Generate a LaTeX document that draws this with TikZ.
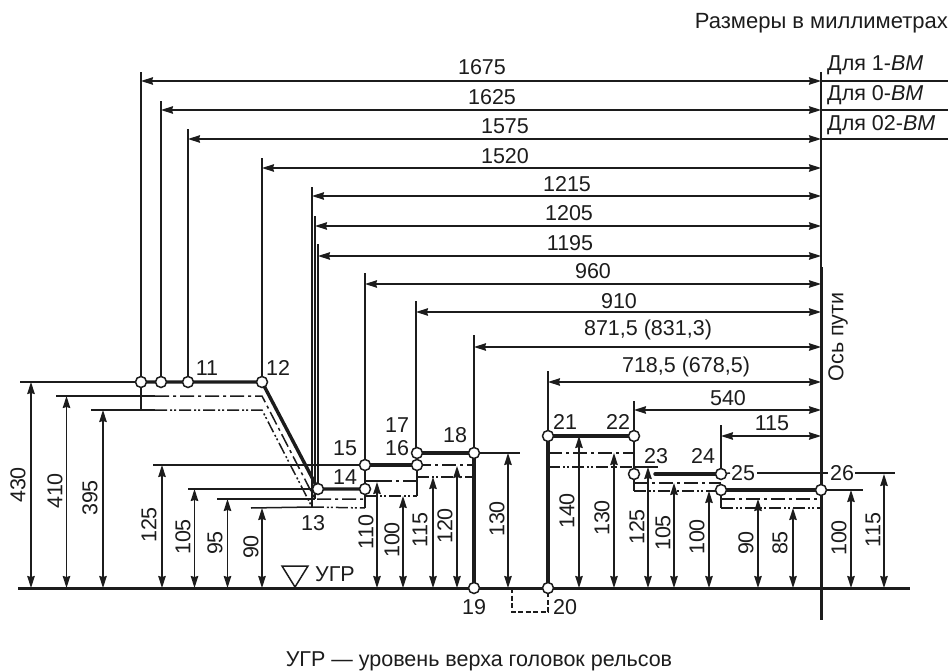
\documentclass[tikz,border=0pt]{standalone}
\usepackage{fontspec}
\setmainfont{Liberation Sans}
\usetikzlibrary{arrows.meta}
\definecolor{ink}{HTML}{1C1C1C}
\newcommand\dimH[8]{% name, x, foot y, top y, arrow y, label x, label y, text
  \coordinate (#1-foot) at (#2,#3);
  \coordinate (#1-top) at (#2,#4);
  \coordinate (#1-l) at (#2,#5);
  \coordinate (#1-r) at (821,#5);
  \draw[thinl] (#1-foot) -- (#1-top);
  \draw[dimarrow] (#1-l) -- (#1-r);
  \node[lab] (#1-t) at (#6,#7) {#8};
}
\newcommand\dimV[6]{% name, x, top y, label x, label y, text
  \coordinate (#1-a) at (#2,#3);
  \coordinate (#1-b) at (#2,588);
  \draw[dimarrow] (#1-a) -- (#1-b);
  \node[lab,rotate=90] (#1-t) at (#4,#5) {#6};
}
\tikzset{
  thinl/.style={line width=1.5pt,draw=ink},
  dimarrow/.style={line width=1.5pt,draw=ink,{Stealth[length=12pt,width=7.5pt,inset=1pt]}-{Stealth[length=12pt,width=7.5pt,inset=1pt]}},
  thickl/.style={line width=3.4pt,draw=ink,line cap=round},
  midl/.style={line width=2.4pt,draw=ink},
  dashdot/.style={line width=1.5pt,draw=ink,dash pattern=on 14pt off 4pt on 3pt off 4pt},
  dashdots/.style={line width=1.5pt,draw=ink,dash pattern=on 12pt off 3pt on 2pt off 2pt on 2pt off 3pt},
  hid/.style={line width=1.5pt,draw=ink,dash pattern=on 5pt off 2.5pt},
  lab/.style={inner sep=0pt,text=ink,font=\fontsize{21.5}{24}\selectfont},
  pt/.style={circle,draw=ink,fill=white,line width=1.5pt,minimum size=11pt,inner sep=0pt},
}
\begin{document}
\begin{tikzpicture}[x=1pt,y=-1pt]
\useasboundingbox (0,0) rectangle (950,671);
% profile points
\coordinate (a1) at (141,382);
\coordinate (a2) at (161,382);
\coordinate (p11) at (188,382);
\coordinate (p12) at (262,382);
\coordinate (p13) at (318,489);
\coordinate (p14) at (365,489);
\coordinate (p15) at (365,465);
\coordinate (p16) at (417,465);
\coordinate (p17) at (417,453);
\coordinate (p18) at (474,453);
\coordinate (p19) at (474,588);
\coordinate (p20) at (548,588);
\coordinate (p21) at (548,436);
\coordinate (p22) at (634,436);
\coordinate (p23) at (634,474);
\coordinate (p24) at (721,474);
\coordinate (p25) at (721,490);
\coordinate (p26) at (821,490);
% ground and axis
\coordinate (g-l) at (18,588);
\coordinate (g-r) at (910,588);
\draw[line width=3pt,draw=ink] (g-l) -- (g-r);
\coordinate (ax-top) at (821,72);
\coordinate (ax-mid) at (821,267);
\coordinate (ax-bot) at (821,620);
\draw[line width=1.8pt,draw=ink] (ax-top) -- (ax-mid);
\draw[line width=3pt,draw=ink] (ax-mid) -- (ax-bot);
% horizontal dimensions
\dimH{d1675}{141}{382}{72}{81}{482}{67}{1675}
\dimH{d1625}{161}{382}{101}{110}{492}{97}{1625}
\dimH{d1575}{188}{382}{129}{139}{505}{126}{1575}
\dimH{d1520}{262}{382}{158}{168}{505}{156}{1520}
\dimH{d1215}{312}{507}{187}{196}{567}{184}{1215}
\dimH{d1205}{315}{499}{216}{226}{569}{213}{1205}
\dimH{d1195}{318}{489}{244}{256}{570}{243}{1195}
\dimH{d960}{365}{465}{273}{284}{593}{271}{960}
\dimH{d910}{416}{453}{301}{312}{619}{301}{910}
\dimH{d871}{474}{453}{335}{347}{648}{330}{871,5 (831,3)}
\dimH{d718}{548}{436}{371}{382}{686}{367}{718,5 (678,5)}
\dimH{d540}{634}{436}{401}{410}{728}{398}{540}
\dimH{d115}{721}{474}{425}{436}{772}{423}{115}
% right-hand lines
\coordinate (r1) at (948,81);
\coordinate (r2) at (948,110);
\coordinate (r3) at (948,139);
\draw[thinl] (d1675-r) -- (r1);
\draw[thinl] (d1625-r) -- (r2);
\draw[thinl] (d1575-r) -- (r3);
% left levels
\coordinate (l430) at (20,382);
\draw[thinl] (l430) -- (a1);
\coordinate (l410) at (56,396);
\coordinate (l410b) at (155,396);
\coordinate (l410c) at (262,396);
\coordinate (l410d) at (315,499);
\coordinate (l410e) at (365,499);
\draw[thinl] (l410) -- (l410b);
\draw[dashdot] (l410b) -- (l410c) -- (l410d) -- (l410e);
\coordinate (l395) at (91,410);
\coordinate (l395b) at (155,410);
\coordinate (l395c) at (262,410);
\coordinate (l395d) at (312,507);
\coordinate (l395e) at (365,508);
\draw[thinl] (l395) -- (l395b);
\draw[thinl] (a1) -- (141,410);
\draw[dashdots] (l395b) -- (l395c) -- (l395d) -- (l395e);
\coordinate (l125) at (153,465);
\draw[thinl] (l125) -- (p15);
\coordinate (l105) at (188,489);
\draw[thinl] (l105) -- (p13);
\coordinate (l95) at (217,499);
\draw[thinl] (l95) -- (l410d);
\coordinate (l90) at (251,508);
\draw[thinl] (l90) -- (l395d);
\draw[thinl] (p14) -- (l395e);
% middle levels
\coordinate (m481a) at (365,481);
\coordinate (m481b) at (378,481);
\coordinate (m481c) at (417,481);
\draw[thinl] (m481a) -- (m481b);
\draw[dashdot] (m481b) -- (m481c);
\coordinate (m496a) at (365,496);
\coordinate (m496b) at (417,496);
\draw[dashdots] (m496a) -- (m496b);
\draw[thinl] (p16) -- (m496b);
\coordinate (m466) at (474,465);
\draw[dashdot] (p16) -- (m466);
\coordinate (m477a) at (417,477);
\coordinate (m477b) at (474,477);
\draw[dashdots] (m477a) -- (m477b);
\coordinate (r130) at (520,453);
\draw[thinl] (p18) -- (r130);
% right levels
\coordinate (s453a) at (548,453);
\coordinate (s453b) at (634,453);
\draw[dashdot] (s453a) -- (s453b);
\coordinate (s467a) at (548,467);
\coordinate (s467b) at (634,467);
\coordinate (s467c) at (658,467);
\draw[dashdots] (s467a) -- (s467b);
\draw[thinl] (s467b) -- (s467c);
\coordinate (s483a) at (634,483);
\coordinate (s483b) at (721,483);
\draw[dashdot] (s483a) -- (s483b);
\coordinate (s491a) at (634,491);
\coordinate (s491b) at (721,491);
\draw[thinl] (p23) -- (s491a);
\draw[dashdots] (s491a) -- (s491b);
\coordinate (s499a) at (721,499);
\coordinate (s499b) at (821,499);
\draw[dashdot] (s499a) -- (s499b);
\coordinate (s508a) at (721,508);
\coordinate (s508b) at (821,508);
\draw[thinl] (p25) -- (s508a);
\draw[dashdots] (s508a) -- (s508b);
\coordinate (r100) at (863,490);
\draw[thinl] (p26) -- (r100);
\coordinate (t1) at (730,473);
\coordinate (t2) at (757,473);
\coordinate (t3) at (828,473);
\coordinate (t4) at (855,473);
\coordinate (t5) at (895,473);
\draw[thinl] (p24) -- (t1);
\draw[thinl] (t2) -- (t3);
\draw[thinl] (t4) -- (t5);
% hidden box
\coordinate (h1) at (512,588);
\coordinate (h2) at (512,612);
\coordinate (h3) at (548,612);
\draw[hid] (h1) -- (h2) -- (h3) -- (p20);
% vertical dimensions
\dimV{v430}{31}{382}{18}{485}{430}
\dimV{v410}{66.5}{396}{55}{491}{410}
\dimV{v395}{103}{410}{90}{498}{395}
\dimV{v125a}{162}{465}{149}{525}{125}
\dimV{v105a}{194.5}{489}{183}{537}{105}
\dimV{v95}{227.5}{499}{215}{543}{95}
\dimV{v90a}{262}{508}{251}{547}{90}
\dimV{v110}{377}{482}{366}{532}{110}
\dimV{v100a}{403}{496}{392}{540}{100}
\dimV{v115a}{433}{477}{420}{530}{115}
\dimV{v120}{457}{466}{445}{526}{120}
\dimV{v130a}{508}{453}{497}{519}{130}
\dimV{v140}{579}{436}{567}{511}{140}
\dimV{v130b}{614}{453}{602}{518}{130}
\dimV{v125b}{648}{467}{637}{527}{125}
\dimV{v105b}{674}{483}{663}{533}{105}
\dimV{v100b}{709}{491}{697}{537}{100}
\dimV{v90b}{758}{499}{746}{543}{90}
\dimV{v85}{793}{508}{780}{543}{85}
\dimV{v100c}{851}{490}{839}{538}{100}
\dimV{v115b}{884}{474}{873}{530}{115}
% thick profile
\draw[thickl] (a1) -- (p12) -- (p13) -- (p14);
\draw[midl] (p14) -- (p15);
\draw[thickl] (p15) -- (p16);
\draw[thinl] (p16) -- (p17);
\draw[thickl] (p17) -- (p18) -- (p19);
\draw[thickl] (p20) -- (p21) -- (p22);
\draw[midl] (p22) -- (p23);
\coordinate (p23b) at (655,474);
\draw[thickl] (p23b) -- (p24);
\draw[thickl] (p25) -- (p26);
% points
\node[pt] (na1) at (a1) {};
\node[pt] (na2) at (a2) {};
\node[pt] (n11) at (p11) {};
\node[pt] (n12) at (p12) {};
\node[pt] (n13) at (p13) {};
\node[pt] (n14) at (p14) {};
\node[pt] (n15) at (p15) {};
\node[pt] (n16) at (p16) {};
\node[pt] (n17) at (p17) {};
\node[pt] (n18) at (p18) {};
\node[pt] (n19) at (p19) {};
\node[pt] (n20) at (p20) {};
\node[pt] (n21) at (p21) {};
\node[pt] (n22) at (p22) {};
\node[pt] (n23) at (p23) {};
\node[pt] (n24) at (p24) {};
\node[pt] (n25) at (p25) {};
\node[pt] (n26) at (p26) {};
% point labels
\node[lab] (t11) at (207,368) {11};
\node[lab] (t12) at (278,368) {12};
\node[lab] (t13) at (313,523) {13};
\node[lab] (t14) at (345,477) {14};
\node[lab] (t15) at (345,448) {15};
\node[lab] (t16) at (397,448) {16};
\node[lab] (t17) at (397,425) {17};
\node[lab] (t18) at (455,435) {18};
\node[lab] (t19) at (474,607) {19};
\node[lab] (t20) at (565,607) {20};
\node[lab] (t21) at (565,422) {21};
\node[lab] (t22) at (618,422) {22};
\node[lab] (t23) at (656,456) {23};
\node[lab] (t24) at (703,456) {24};
\node[lab] (t25) at (743,473) {25};
\node[lab] (t26) at (842,473) {26};
% rail-level mark
\coordinate (u1) at (282,566);
\coordinate (u2) at (308,566);
\coordinate (u3) at (295,587);
\draw[thinl] (u1) -- (u2) -- (u3) -- cycle;
\node[lab] (tugr) at (335,574) {УГР};
% texts
\node[lab,anchor=east,font=\fontsize{22}{24}\selectfont] (tsize) at (948,23) {Размеры в миллиметрах};
\node[lab,anchor=west] (tb1) at (827,65) {Для 1-\textit{ВМ}};
\node[lab,anchor=west] (tb2) at (827,95) {Для 0-\textit{ВМ}};
\node[lab,anchor=west] (tb3) at (827,125) {Для 02-\textit{ВМ}};
\node[lab,rotate=90] (taxis) at (838,337) {Ось пути};
\node[lab] (tnote) at (479,661) {УГР — уровень верха головок рельсов};
\end{tikzpicture}
\end{document}
